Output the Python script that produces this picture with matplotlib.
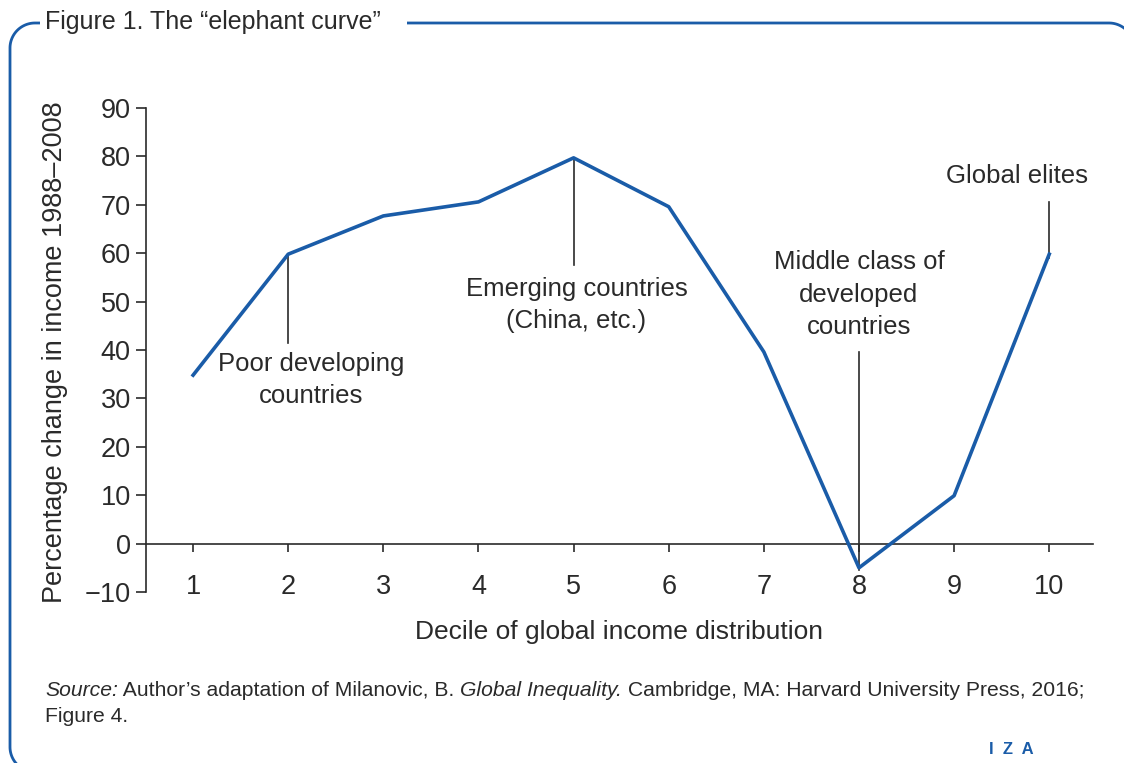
import matplotlib
matplotlib.use("Agg")
import numpy as np
import matplotlib.pyplot as plt

# ── data ──
deciles = [1, 2, 3, 4, 5, 6, 7, 8, 9, 10]
growth = [34.8, 59.8, 67.7, 70.6, 79.7, 69.6, 39.6, -5.0, 9.9, 59.8]
y_ticks = [-10, 0, 10, 20, 30, 40, 50, 60, 70, 80, 90]
y_tick_labels = ["\u221210", "0", "10", "20", "30", "40", "50", "60", "70", "80", "90"]

# annotations: (decile, line from, line to, label x, label y, text)
notes_decile = [2, 5, 8, 10]
notes_line = [(59.8, 41.5), (79.7, 57.5), (39.5, -5.4), (70.5, 59.0)]
notes_pos = [(2.24, 33.8), (5.03, 49.3), (8.0, 51.4), (9.66, 76.0)]
notes_text = ["Poor developing\ncountries",
              "Emerging countries\n(China, etc.)",
              "Middle class of\ndeveloped\ncountries",
              "Global elites"]

BLUE = "#1a5ca8"
DARK = "#2a2a2a"
FONT = "Liberation Sans"
W, H = 1124, 763

plt.rcParams["font.family"] = [FONT, "DejaVu Sans"]

fig = plt.figure(figsize=(11.24, 7.63), dpi=100, facecolor="white")

# ── frame: rounded rectangle in pixel units, runs past right/bottom edges ──
bg = fig.add_axes([0, 0, 1, 1], zorder=0)
bg.set_xlim(0, W)
bg.set_ylim(0, H)
bg.axis("off")


def rounded_rect(x0, x1, yb, yt, r, n=30):
    pts = []
    corners = [(x1 - r, yt - r, 0, 90), (x0 + r, yt - r, 90, 180),
               (x0 + r, yb + r, 180, 270), (x1 - r, yb + r, 270, 360)]
    for cx, cy, a0, a1 in corners:
        a = np.radians(np.linspace(a0, a1, n))
        pts.append(np.column_stack([cx + r * np.cos(a), cy + r * np.sin(a)]))
    pts = np.vstack(pts + [pts[0][:1]])
    return pts[:, 0], pts[:, 1]


fx, fy = rounded_rect(10, 1134, H - 772, H - 23, 25)
bg.plot(fx, fy, color=BLUE, linewidth=2.0, solid_capstyle="butt")
bg.text(45, H - 22, "Figure 1. The \u201celephant curve\u201d   ",
        ha="left", va="center", fontsize=18, color=DARK,
        bbox=dict(facecolor="white", edgecolor="none", pad=4))

# ── axes ──
ax = fig.add_axes([146 / W, 1 - 592 / H, (1093 - 146) / W, (592 - 108) / H], zorder=1)
ax.patch.set_visible(False)
ax.plot(deciles, growth, color=BLUE, linewidth=2.6, zorder=3)

ax.set_xlim(0.505, 10.46)
ax.set_ylim(-10, 90)
for s in ["top", "right"]:
    ax.spines[s].set_visible(False)
ax.spines["bottom"].set_position(("data", 0))
for s in ["left", "bottom"]:
    ax.spines[s].set_color(DARK)
    ax.spines[s].set_linewidth(1.2)

ax.set_yticks(y_ticks)
ax.set_yticklabels(y_tick_labels)
ax.set_xticks(deciles)
ax.set_xticklabels([])
ax.tick_params(axis="y", direction="out", length=7, width=1.2, color=DARK,
               labelsize=19.5, labelcolor=DARK, pad=4)
ax.tick_params(axis="x", direction="out", length=6, width=1.2, color=DARK)

# x tick labels sit below the -10 line
for d in deciles:
    ax.text(d, -8.9, str(d), ha="center", va="center", fontsize=19.5, color=DARK)

fig.text(55 / W, 1 - 352 / H, "Percentage change in income 1988\u20132008",
         rotation=90, ha="center", va="center", fontsize=19.5, color=DARK)
fig.text(619 / W, 1 - 632 / H, "Decile of global income distribution",
         ha="center", va="center", fontsize=19, color=DARK)

for d, (y0, y1), (tx, ty), txt in zip(notes_decile, notes_line, notes_pos, notes_text):
    ax.plot([d, d], [y0, y1], color=DARK, linewidth=1.2, zorder=2)
    ax.text(tx, ty, txt, ha="center", va="center", fontsize=18.5, color=DARK,
            linespacing=1.45)

# ── source note ──
renderer = fig.canvas.get_renderer()
pieces = [("Source:", "italic"), (" Author\u2019s adaptation of Milanovic, B. ", "normal"),
          ("Global Inequality.", "italic"),
          (" Cambridge, MA: Harvard University Press, 2016;", "normal")]
x = 45 / W
y = 1 - 690 / H
for txt, style in pieces:
    t = fig.text(x, y, txt, ha="left", va="center", fontsize=15.2, style=style,
                 color=DARK)
    bb = t.get_window_extent(renderer)
    x += bb.width / fig.bbox.width
fig.text(45 / W, 1 - 717 / H, "Figure 4.", ha="left", va="center",
         fontsize=15.2, color=DARK)

fig.text(1011 / W, 1 - 749 / H, "I  Z  A", ha="center", va="center",
         fontsize=12, color=BLUE, fontweight="bold")

fig.savefig("out.png", dpi=100, facecolor="white")
